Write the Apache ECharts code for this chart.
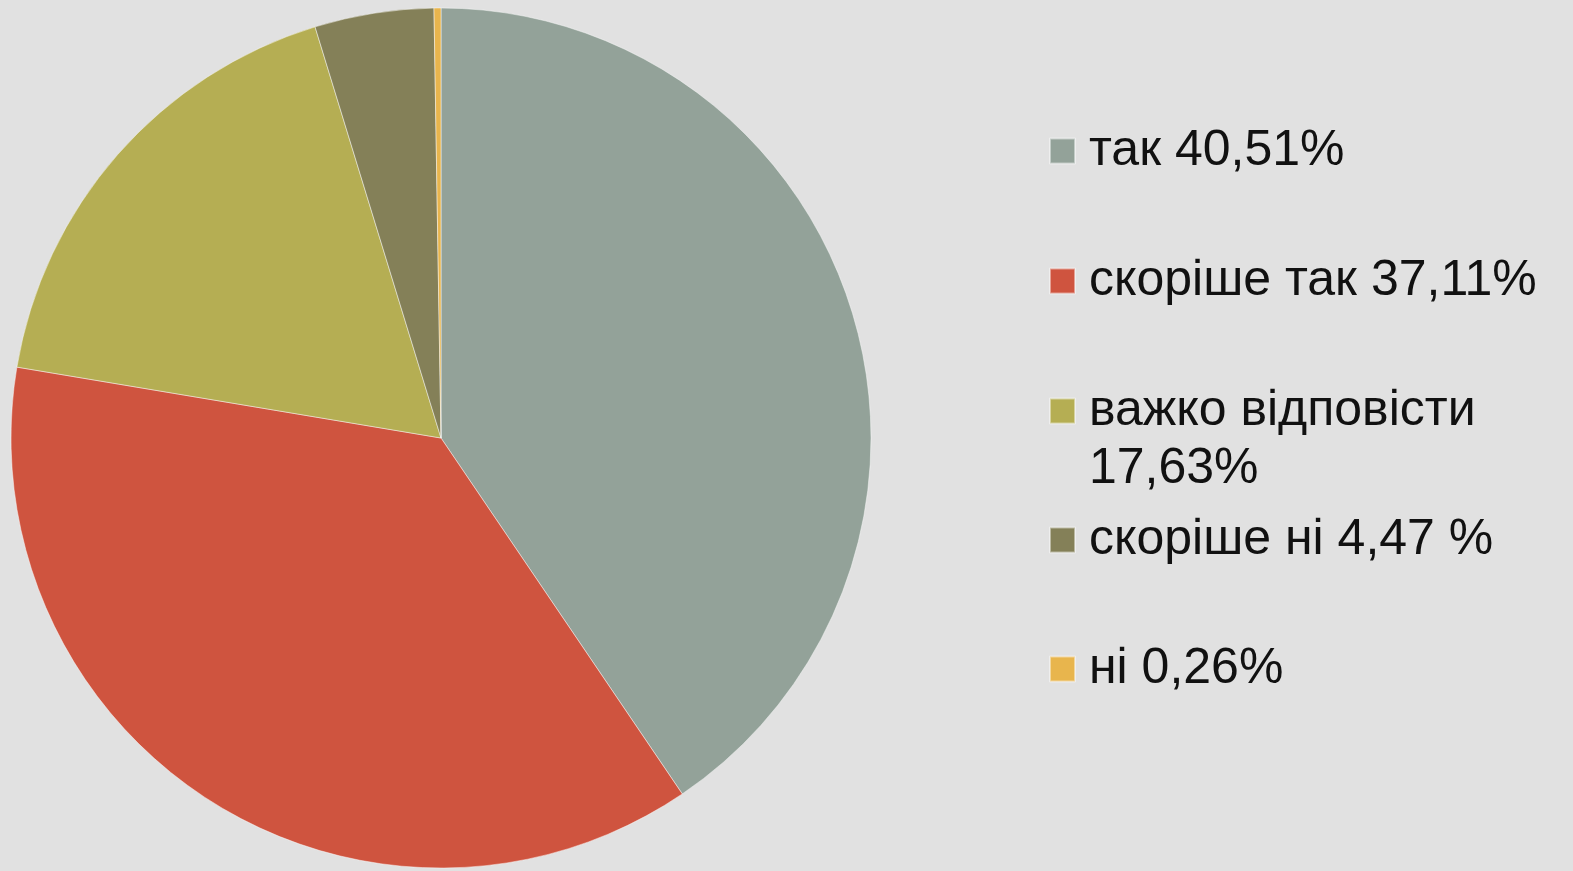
<!doctype html>
<html>
<head>
	<meta charset="UTF-8">
	<title>pie</title>
	<script src="https://cdn.jsdelivr.net/npm/echarts@6/dist/echarts.min.js"></script>
	<style>
		html, body { margin: 0; padding: 0; background: #e1e1e1; }
		#main { width: 1573px; height: 871px; }
	</style>
</head>
<body>
	<div id="main"></div>
	<script type="text/javascript">
		var categories = ['так', 'скоріше так', 'важко відповісти', 'скоріше ні', 'ні'];
		var values = [40.51, 37.11, 17.63, 4.47, 0.26];
		var legendLabels = ['так 40,51%', 'скоріше так 37,11%', 'важко відповісти\n17,63%', 'скоріше ні 4,47 %', 'ні 0,26%'];
		var colors = ['#93a299', '#cf543f', '#b5ae53', '#848058', '#e8b54d'];

		// centre of each legend square, one legend per row so the wrapped one keeps the spacing
		var rowCenters = [151, 281, 411, 540, 669];
		var lineH = 58;

		var legends = categories.map(function(name, i) {
			var wrapped = legendLabels[i].indexOf('\n') >= 0;
			// wrapped text gets an empty first line so its first real line sits on the square
			var h = wrapped ? lineH * 3 : lineH;
			return {
				orient: 'vertical',
				left: 1044,
				top: rowCenters[i] - 5 - h / 2,
				itemWidth: 25,
				itemHeight: 25,
				icon: 'rect',
				selectedMode: false,
				data: [name],
				formatter: function(n) {
					var s = legendLabels[categories.indexOf(n)];
					return s.indexOf('\n') >= 0 ? ' \n' + s : s;
				},
				textStyle: {
					fontFamily: 'Liberation Sans',
					fontSize: 50,
					lineHeight: lineH,
					color: '#111111',
					padding: [0, 0, 0, 9]
				}
			};
		});

		var option = {
			backgroundColor: '#e1e1e1',
			color: colors,
			animation: false,
			legend: legends,
			series: [{
				type: 'pie',
				center: [441, 438],
				radius: 430,
				startAngle: 90,
				clockwise: true,
				label: { show: false },
				labelLine: { show: false },
				itemStyle: {
					borderColor: 'rgba(255,255,255,0.45)',
					borderWidth: 1
				},
				data: categories.map(function(name, i) {
					return { name: name, value: values[i] };
				})
			}]
		};

		var chart = echarts.init(document.getElementById('main'));
		chart.setOption(option);
	</script>
</body>
</html>
